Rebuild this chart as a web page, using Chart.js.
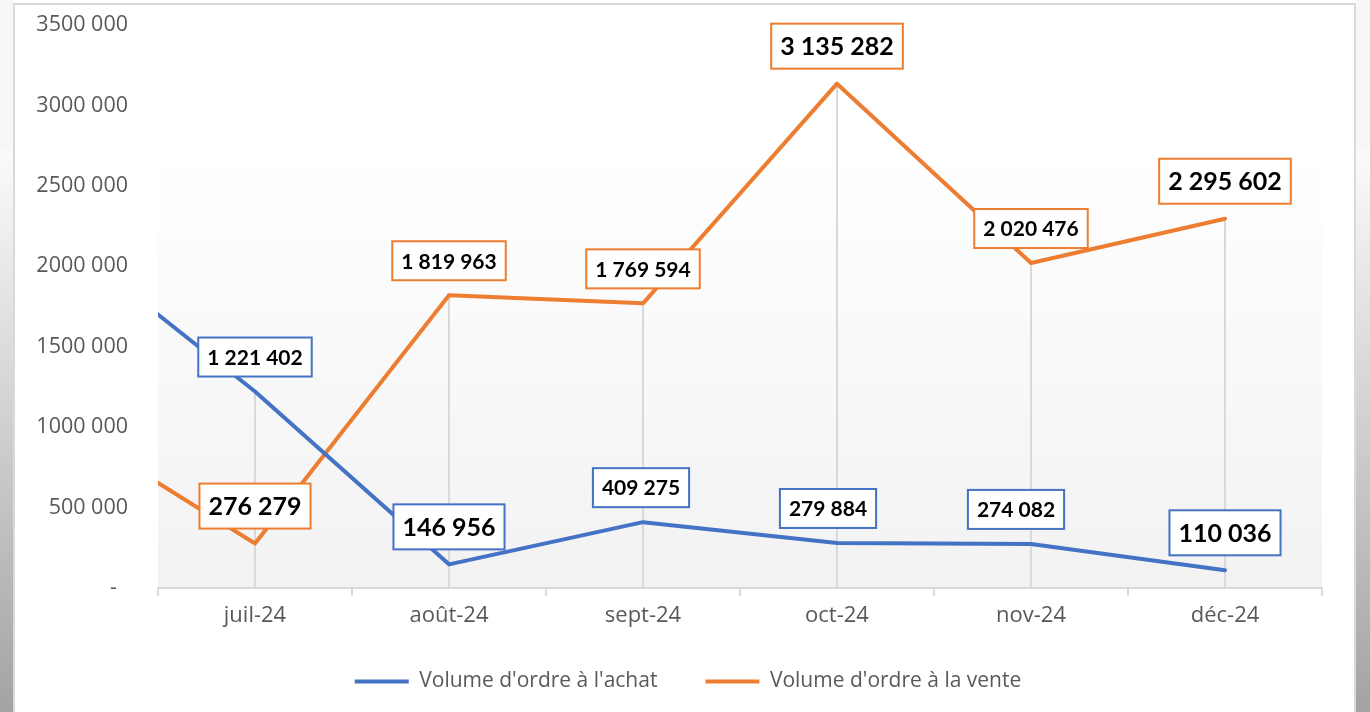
<!DOCTYPE html>
<html>
<head>
<meta charset="utf-8">
<script src="https://cdn.jsdelivr.net/npm/chart.js@4.4.1/dist/chart.umd.min.js"></script>
<style>
  html, body { margin: 0; padding: 0; background: #ffffff; }
  #wrap { width: 1370px; height: 712px; }
</style>
</head>
<body>
<div id="wrap"><canvas id="c" width="1370" height="712"></canvas></div>
<script>
// ---- data ----
const categories = ['juin-24', 'juil-24', 'août-24', 'sept-24', 'oct-24', 'nov-24', 'déc-24'];
const achat = [2180000, 1221402, 146956, 409275, 279884, 274082, 110036];
const vente = [1030000, 276279, 1819963, 1769594, 3135282, 2020476, 2295602];
const yTickLabels = ['-  ', '500 000', '1000 000', '1500 000', '2000 000', '2500 000', '3000 000', '3500 000'];
const seriesNames = ["Volume d'ordre à l'achat", "Volume d'ordre à la vente"];
const firstShown = 'juil-24';

// ---- label appearance (not data) ----
const bigLabelAchat = [false, false, true, false, false, false, true];
const bigLabelVente = [false, true, false, false, true, false, true];
const labelShiftAchat = [0, 0, 0, -2, -9, -15, 0];
const labelShiftVente = [0, 0, 0, 0, 0, 0, 0];

const BLUE = '#4472C4';
const ORANGE = '#ED7D31';

function fmt(v) {
  return String(v).replace(/\B(?=(\d{3})+(?!\d))/g, ' ');
}

const backgroundPlugin = {
  id: 'bg',
  afterLayout(chart) {
    const lg = chart.legend;
    if (lg) {
      lg.left = 54;
      lg.top -= 10;
      lg.bottom -= 10;
    }
  },
  beforeDraw(chart) {
    const ctx = chart.ctx;
    const W = chart.width, H = chart.height;
    ctx.save();
    ctx.fillStyle = '#ffffff';
    ctx.fillRect(0, 0, W, H);
    const g = ctx.createLinearGradient(0, 150, 0, H);
    g.addColorStop(0, '#fbfbfb');
    g.addColorStop(0.5, '#cfcfcf');
    g.addColorStop(1, '#a3a3a3');
    ctx.fillStyle = g;
    ctx.fillRect(0, 150, 13, H - 150);
    ctx.fillRect(1356, 150, W - 1356, H - 150);
    ctx.fillStyle = '#f7f7f7';
    ctx.fillRect(0, 0, 13, 150);
    ctx.fillRect(1356, 0, W - 1356, 150);
    ctx.strokeStyle = '#d9d9d9';
    ctx.lineWidth = 2;
    ctx.beginPath();
    ctx.moveTo(14, H);
    ctx.lineTo(14, 4);
    ctx.lineTo(1355, 4);
    ctx.lineTo(1355, H);
    ctx.stroke();
    const a = chart.chartArea;
    const pg = ctx.createLinearGradient(0, 150, 0, a.bottom);
    pg.addColorStop(0, '#ffffff');
    pg.addColorStop(1, '#f2f2f2');
    ctx.fillStyle = pg;
    ctx.fillRect(a.left, 150, a.right - a.left, a.bottom - 150);
    ctx.restore();
  }
};

const dropLinePlugin = {
  id: 'droplines',
  beforeDatasetsDraw(chart) {
    const ctx = chart.ctx;
    const xs = chart.scales.x, ys = chart.scales.y;
    ctx.save();
    ctx.strokeStyle = '#d9d9d9';
    ctx.lineWidth = 2;
    for (let i = xs.min; i <= xs.max; i++) {
      const top = Math.max(achat[i], vente[i]);
      const x = xs.getPixelForValue(i);
      ctx.beginPath();
      ctx.moveTo(x, ys.getPixelForValue(top));
      ctx.lineTo(x, ys.getPixelForValue(0));
      ctx.stroke();
    }
    ctx.restore();
  }
};

const boxLabelPlugin = {
  id: 'boxlabels',
  afterDatasetsDraw(chart) {
    const ctx = chart.ctx;
    const xs = chart.scales.x, ys = chart.scales.y;
    const sets = [
      { data: achat, color: BLUE, big: bigLabelAchat, dx: labelShiftAchat },
      { data: vente, color: ORANGE, big: bigLabelVente, dx: labelShiftVente }
    ];
    ctx.save();
    sets.forEach(s => {
      for (let i = xs.min; i <= xs.max; i++) {
        const v = s.data[i];
        const px = xs.getPixelForValue(i) + s.dx[i];
        const py = ys.getPixelForValue(v);
        const size = s.big[i] ? 25 : 21;
        ctx.font = 'bold ' + size + 'px Lato';
        const text = fmt(v);
        const tw = ctx.measureText(text).width;
        const padX = 9, padY = s.big[i] ? 10 : 9;
        const bw = tw + 2 * padX;
        const bh = size + 2 * padY;
        const bottom = py - 15;
        const left = px - bw / 2;
        const top = bottom - bh;
        ctx.fillStyle = '#ffffff';
        ctx.fillRect(left, top, bw, bh);
        ctx.strokeStyle = s.color;
        ctx.lineWidth = 2;
        ctx.strokeRect(left, top, bw, bh);
        ctx.fillStyle = '#000000';
        ctx.textAlign = 'center';
        ctx.textBaseline = 'middle';
        ctx.fillText(text, px, top + bh / 2 + 1);
      }
    });
    ctx.restore();
  }
};

new Chart(document.getElementById('c'), {
  type: 'line',
  data: {
    labels: categories,
    datasets: [
      { label: seriesNames[0], data: achat, borderColor: BLUE, backgroundColor: BLUE, borderWidth: 4,
        pointRadius: 0, pointHoverRadius: 0, tension: 0, borderJoinStyle: 'round', borderCapStyle: 'round' },
      { label: seriesNames[1], data: vente, borderColor: ORANGE, backgroundColor: ORANGE, borderWidth: 4,
        pointRadius: 0, pointHoverRadius: 0, tension: 0, borderJoinStyle: 'round', borderCapStyle: 'round' }
    ]
  },
  options: {
    responsive: false,
    animation: false,
    events: [],
    layout: { padding: { left: 0, right: 48, top: 25, bottom: 0 } },
    scales: {
      x: {
        type: 'category',
        min: firstShown,
        offset: true,
        afterFit(scale) { scale.height = 45; },
        grid: { display: true, offset: true, drawOnChartArea: false, drawTicks: true, tickLength: 8, color: '#d9d9d9', lineWidth: 2 },
        border: { display: true, color: '#d9d9d9', width: 2 },
        ticks: { color: '#595959', font: { family: 'Open Sans', size: 22 }, padding: 7, maxRotation: 0 }
      },
      y: {
        min: 0, max: 3500000,
        afterFit(scale) { scale.width = 158; },
        grid: { display: true, drawOnChartArea: false, drawTicks: true, tickLength: 30, color: 'rgba(0,0,0,0)' },
        border: { display: false },
        ticks: {
          stepSize: 500000,
          color: '#595959',
          font: { family: 'Open Sans', size: 21.5 },
          padding: 0,
          callback: (v, i) => yTickLabels[i]
        }
      }
    },
    plugins: {
      legend: {
        position: 'bottom',
        labels: {
          usePointStyle: true,
          pointStyle: 'line',
          pointStyleWidth: 54,
          padding: 48,
          color: '#595959',
          font: { family: 'Open Sans', size: 21 }
        }
      },
      tooltip: { enabled: false }
    }
  },
  plugins: [backgroundPlugin, dropLinePlugin, boxLabelPlugin]
});
</script>
</body>
</html>
